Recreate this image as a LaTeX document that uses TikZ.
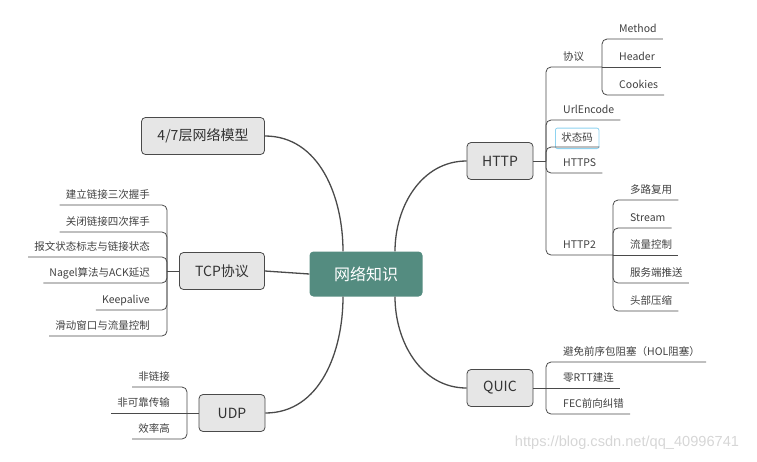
\documentclass[tikz,border=0pt]{standalone}
\usepackage{fontspec}
\setmainfont{Noto Sans CJK SC}
\newfontfamily\wmfont{Liberation Sans}
\usetikzlibrary{positioning}
\definecolor{rootgreen}{HTML}{548C80}
\definecolor{topicgray}{HTML}{E6E6E6}
\definecolor{linegray}{HTML}{4A4A4A}
\definecolor{pickblue}{HTML}{8ED3F0}
\tikzset{
  root/.style={rectangle, rounded corners=4pt, fill=rootgreen, text=white,
    font=\fontsize{16}{18}\selectfont, minimum width=113pt, minimum height=45pt},
  topic/.style={rectangle, rounded corners=4pt, draw=linegray, fill=topicgray,
    text=black!80, font=\fontsize{14}{16}\selectfont, minimum height=37pt, line width=0.8pt},
  leaf/.style={inner xsep=6pt, inner ysep=4pt, text=black!75, text height=8.5pt, text depth=2pt,
    font=\fontsize{10.5}{12}\selectfont},
  leafr/.style={leaf, anchor=south west},
  leafl/.style={leaf, anchor=south east},
  trunk/.style={draw=linegray, line width=1.3pt},
  branch/.style={draw=linegray, line width=0.8pt, rounded corners=5pt},
  picked/.style={draw=pickblue, rounded corners=2pt, line width=0.8pt, inner ysep=5pt},
}

\begin{document}
\begin{tikzpicture}[x=1pt, y=1pt]
  \useasboundingbox (0,0) rectangle (757,-461);

  % main topics
  \node [root] (net) at (366, -274) {网络知识};
  \node [topic, minimum width=66pt] (http) at (500, -161) {HTTP};
  \node [topic, minimum width=66pt] (quic) at (500, -388) {QUIC};
  \node [topic, minimum width=123pt] (model) at (203, -136) {4/7层网络模型};
  \node [topic, minimum width=85pt] (tcp) at (222, -271) {TCP协议};
  \node [topic, minimum width=66pt] (udp) at (232, -413) {UDP};

  \draw [trunk] (model.east) to[out=0, in=90] ([xshift=-23pt]net.north);
  \draw [trunk] ([xshift=29pt]net.north) to[out=90, in=180] (http.west);
  \draw [trunk] (tcp.east) -- (net.west);
  \draw [trunk] (udp.east) to[out=0, in=-90] ([xshift=-23pt]net.south);
  \draw [trunk] ([xshift=29pt]net.south) to[out=-90, in=180] (quic.west);

  % HTTP
  \coordinate (httpj) at (546, -161);
  \coordinate (xyj) at (602, -67);
  \coordinate (h2j) at (613, -255);
  \node [leafr] (xieyi) at (557, -67) {协议};
  \node [leafr] (urlenc) at (557, -120) {UrlEncode};
  \node [leafr, picked] (status) at (555, -149) {状态码};
  \node [leafr] (https) at (557, -173) {HTTPS};
  \node [leafr] (http2) at (557, -255) {HTTP2};
  \draw [branch] (http.east) -- (httpj);
  \draw [branch] (httpj) |- (xyj);
  \draw [branch] (httpj) |- (urlenc.south east);
  \draw [branch] (httpj) |- ([yshift=2pt]status.south east);
  \draw [branch] (httpj) |- (https.south east);
  \draw [branch] (httpj) |- (h2j);

  \node [leafr] (method) at (613, -39) {Method};
  \node [leafr] (header) at (613, -67) {Header};
  \node [leafr] (cookies) at (613, -95) {Cookies};
  \draw [branch] (xyj) |- (method.south east);
  \draw [branch] (xyj) -- (header.south east);
  \draw [branch] (xyj) |- (cookies.south east);

  \node [leafr] (mux) at (624, -200) {多路复用};
  \node [leafr] (stream) at (624, -228) {Stream};
  \node [leafr] (flow) at (624, -255) {流量控制};
  \node [leafr] (push) at (624, -283) {服务端推送};
  \node [leafr] (hpack) at (624, -311) {头部压缩};
  \draw [branch] (h2j) |- (mux.south east);
  \draw [branch] (h2j) |- (stream.south east);
  \draw [branch] (h2j) -- (flow.south east);
  \draw [branch] (h2j) |- (push.south east);
  \draw [branch] (h2j) |- (hpack.south east);

  % QUIC
  \coordinate (quicj) at (546, -388);
  \node [leafr] (hol) at (557, -362) {避免前序包阻塞（HOL阻塞）};
  \node [leafr] (zerortt) at (557, -388) {零RTT建连};
  \node [leafr] (fec) at (557, -414) {FEC前向纠错};
  \draw [branch] (quic.east) -- (quicj);
  \draw [branch] (quicj) |- (hol.south east);
  \draw [branch] (quicj) -- (zerortt.south east);
  \draw [branch] (quicj) |- (fec.south east);

  % TCP
  \coordinate (tcpj) at (167, -271);
  \node [leafl] (shake) at (156, -205) {建立链接三次握手};
  \node [leafl] (wave) at (156, -232) {关闭链接四次挥手};
  \node [leafl] (flags) at (156, -257) {报文状态标志与链接状态};
  \node [leafl] (nagle) at (156, -283) {Nagel算法与ACK延迟};
  \node [leafl] (alive) at (156, -310) {Keepalive};
  \node [leafl] (window) at (156, -336) {滑动窗口与流量控制};
  \draw [branch] (tcp.west) -- (tcpj);
  \draw [branch] (tcpj) |- (shake.south west);
  \draw [branch] (tcpj) |- (wave.south west);
  \draw [branch] (tcpj) |- (flags.south west);
  \draw [branch] (tcpj) |- (nagle.south west);
  \draw [branch] (tcpj) |- (alive.south west);
  \draw [branch] (tcpj) |- (window.south west);

  % UDP
  \coordinate (udpj) at (187, -413);
  \node [leafl] (noconn) at (176, -387) {非链接};
  \node [leafl] (unrel) at (176, -413) {非可靠传输};
  \node [leafl] (effic) at (176, -439) {效率高};
  \draw [branch] (udp.west) -- (udpj);
  \draw [branch] (udpj) |- (noconn.south west);
  \draw [branch] (udpj) -- (unrel.south west);
  \draw [branch] (udpj) |- (effic.south west);

  \node [text=black!16, font=\wmfont\fontsize{14.6}{16}\selectfont] (wm) at (627, -443) {https://blog.csdn.net/qq\_40996741};
\end{tikzpicture}
\end{document}
